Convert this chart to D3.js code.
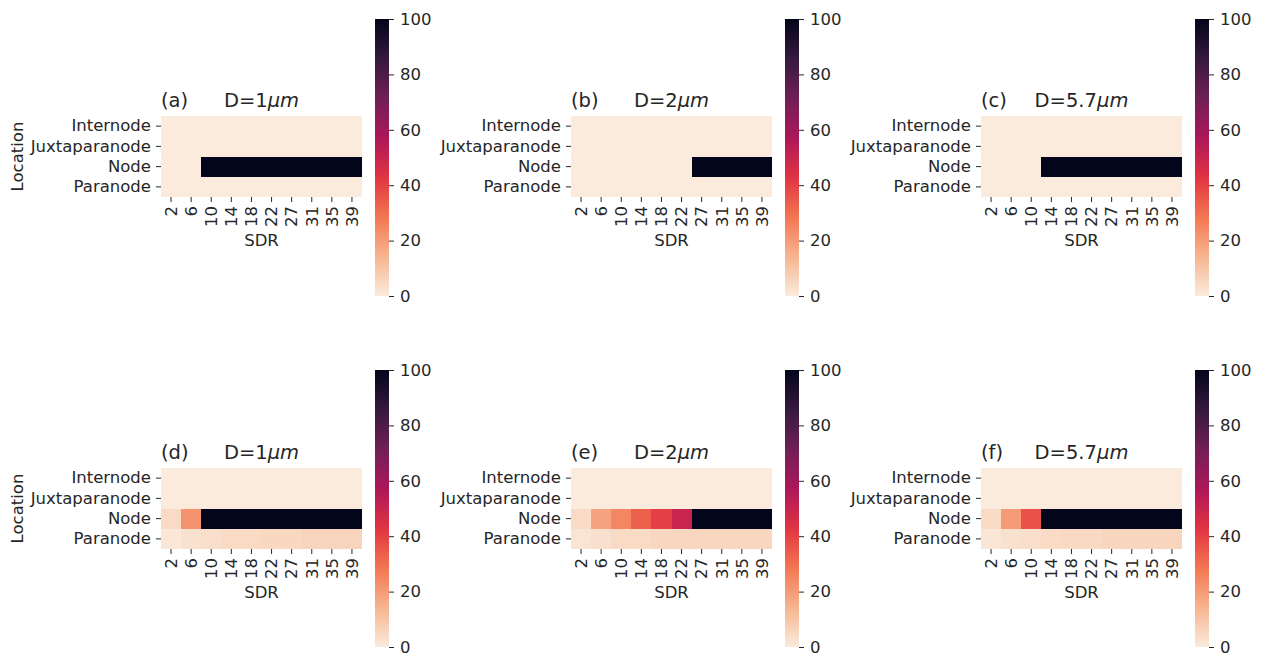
<!DOCTYPE html>
<html>
<head>
<meta charset="utf-8">
<script src="https://cdn.jsdelivr.net/npm/d3@7"></script>
<style>
  body { margin: 0; background: #fff; }
  svg text { font-family: "DejaVu Sans", sans-serif; fill: #262626; }
</style>
</head>
<body>
<div id="chart"></div>
<script>
const width = 1266;
const height = 658;

// categories
const sdr = [2, 6, 10, 14, 18, 22, 27, 31, 35, 39];
const locations = ["Internode", "Juxtaparanode", "Node", "Paranode"];
const cbarTicks = [0, 20, 40, 60, 80, 100];

// values per panel: rows in order of locations
const zeros = [0, 0, 0, 0, 0, 0, 0, 0, 0, 0];
const nodeA = [0, 0, 100, 100, 100, 100, 100, 100, 100, 100];
const nodeB = [0, 0, 0, 0, 0, 0, 100, 100, 100, 100];
const nodeC = [0, 0, 0, 100, 100, 100, 100, 100, 100, 100];
const nodeD = [4.5, 22, 100, 100, 100, 100, 100, 100, 100, 100];
const paraD = [1, 2.5, 3.3, 4.5, 4.5, 5.2, 5.2, 6, 6, 6];
const nodeE = [4.5, 18, 25, 33, 40, 50, 100, 100, 100, 100];
const paraE = [1.5, 3, 4.5, 4.5, 5.5, 5.5, 5.5, 5.5, 5.5, 5.5];
const nodeF = [4.5, 20, 36.5, 100, 100, 100, 100, 100, 100, 100];
const paraF = [1.2, 2.5, 3.3, 4.2, 4.8, 4.8, 5.8, 5.8, 5.8, 5.8];

const panels = [
  { tag: "(a)", d: "1", rows: [zeros, zeros, nodeA, zeros] },
  { tag: "(b)", d: "2", rows: [zeros, zeros, nodeB, zeros] },
  { tag: "(c)", d: "5.7", rows: [zeros, zeros, nodeC, zeros] },
  { tag: "(d)", d: "1", rows: [zeros, zeros, nodeD, paraD] },
  { tag: "(e)", d: "2", rows: [zeros, zeros, nodeE, paraE] },
  { tag: "(f)", d: "5.7", rows: [zeros, zeros, nodeF, paraF] }
];

// rocket colormap, reversed (0 -> light, 100 -> dark)
const rocket = ["#03051a", "#35193e", "#701f57", "#ad1759", "#e13342", "#f37651", "#f6b48f", "#faebdd"];
const color = d3.scaleLinear()
    .domain(rocket.map((c, i) => 100 - i * 100 / 7))
    .range(rocket)
    .clamp(true);

const svg = d3.select("#chart").append("svg")
    .attr("width", width)
    .attr("height", height);

const defs = svg.append("defs");
const grad = defs.append("linearGradient")
    .attr("id", "cbar")
    .attr("x1", 0).attr("y1", 1).attr("x2", 0).attr("y2", 0);
d3.range(0, 101, 2).forEach(v => {
    grad.append("stop").attr("offset", v + "%").attr("stop-color", color(v));
});

const colX = [161, 571, 981];
const rowY = [116, 468];
const cbarTop = [19, 370];
const mapW = 201, mapH = 81, cbarH = 277;
const fs = "16.5px";

panels.forEach((p, i) => {
    const x0 = colX[i % 3], y0 = rowY[Math.floor(i / 3)];
    const g = svg.append("g").attr("transform", `translate(${x0},${y0})`);

    const x = d3.scaleBand().domain(sdr).range([0, mapW]);
    const y = d3.scaleBand().domain(locations).range([0, mapH]);

    const cells = [];
    p.rows.forEach((row, r) => row.forEach((v, c) => cells.push({ loc: locations[r], sdr: sdr[c], v })));

    g.append("g")
        .attr("shape-rendering", "crispEdges")
        .selectAll("rect")
        .data(cells)
        .join("rect")
        .attr("x", d => x(d.sdr))
        .attr("y", d => y(d.loc))
        .attr("width", d => x.bandwidth() + (d.sdr === sdr[sdr.length - 1] ? 0 : 0.6))
        .attr("height", d => y.bandwidth() + (d.loc === locations[locations.length - 1] ? 0 : 0.6))
        .attr("fill", d => color(d.v));

    const ya = g.append("g")
        .call(d3.axisLeft(y).tickSize(5).tickPadding(5));
    ya.select(".domain").remove();
    ya.selectAll("line").attr("stroke", "#262626");
    ya.selectAll("text").attr("font-size", fs).attr("fill", "#262626");

    const xa = g.append("g")
        .attr("transform", `translate(0,${mapH})`)
        .call(d3.axisBottom(x).tickSize(5).tickPadding(5));
    xa.select(".domain").remove();
    xa.selectAll("line").attr("stroke", "#262626");
    xa.selectAll("text")
        .attr("font-size", fs)
        .attr("fill", "#262626")
        .attr("transform", "rotate(-90)")
        .attr("text-anchor", "end")
        .attr("x", -9)
        .attr("y", 0)
        .attr("dy", "0.35em");

    g.append("text")
        .attr("x", mapW / 2)
        .attr("y", mapH + 49)
        .attr("text-anchor", "middle")
        .attr("font-size", fs)
        .text("SDR");

    if (i % 3 === 0) {
        g.append("text")
            .attr("transform", `translate(${23 - x0},${mapH / 2}) rotate(-90)`)
            .attr("text-anchor", "middle")
            .attr("font-size", fs)
            .text("Location");
    }

    // titles
    g.append("text")
        .attr("x", 0)
        .attr("y", -9.5)
        .attr("font-size", "19.5px")
        .text(p.tag);
    const t = g.append("text")
        .attr("x", mapW / 2)
        .attr("y", -9.5)
        .attr("text-anchor", "middle")
        .attr("font-size", "19.5px");
    t.append("tspan").text("D=" + p.d);
    t.append("tspan").attr("font-style", "italic").text("\u03bcm");

    // colorbar
    const cy0 = cbarTop[Math.floor(i / 3)];
    const cb = svg.append("g").attr("transform", `translate(${x0 + 214},${cy0})`);
    cb.append("rect")
        .attr("width", 14)
        .attr("height", cbarH)
        .attr("fill", "url(#cbar)");
    const cs = d3.scaleLinear().domain([0, 100]).range([cbarH, 0]);
    const ca = cb.append("g")
        .attr("transform", "translate(14,0)")
        .call(d3.axisRight(cs).tickValues(cbarTicks).tickSize(5).tickPadding(6));
    ca.select(".domain").remove();
    ca.selectAll("line").attr("stroke", "#262626");
    ca.selectAll("text").attr("font-size", fs).attr("fill", "#262626");
});
</script>
</body>
</html>
